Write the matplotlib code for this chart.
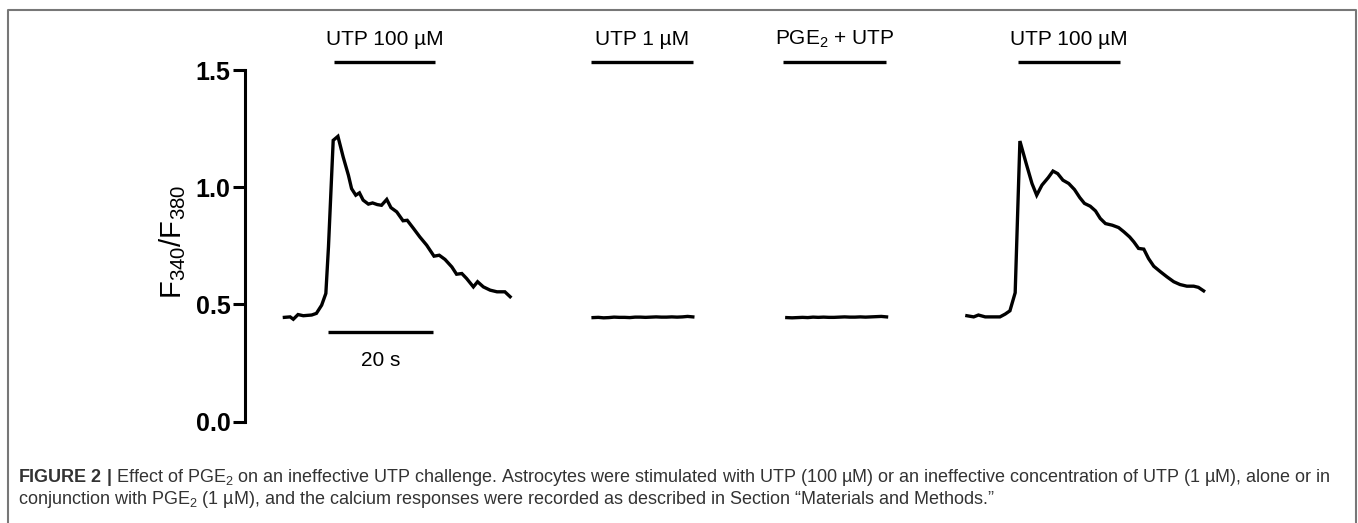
import matplotlib
matplotlib.use("Agg")
import matplotlib.pyplot as plt
from matplotlib.lines import Line2D

plt.rcParams['font.family'] = ['Liberation Sans', 'DejaVu Sans']
plt.rcParams['mathtext.fontset'] = 'custom'
plt.rcParams['mathtext.rm'] = 'Liberation Sans'
plt.rcParams['mathtext.it'] = 'Liberation Sans:italic'
plt.rcParams['mathtext.bf'] = 'Liberation Sans:bold'

# traces: time (s, from start of each recording) and F340/F380 ratio
t_utp100_a = [0, 1.1, 1.7, 2.6, 3.6, 5.2, 6.1, 7.1, 7.9, 8.4, 9.3, 10.2, 11.2, 12.2, 12.8,
              13.6, 14.3, 15.0, 16.0, 16.8, 17.7, 18.5, 19.5, 20.3, 21.4, 22.6, 23.4, 24.6,
              25.8, 27.1, 28.5, 29.5, 30.6, 31.9, 32.8, 33.8, 34.7, 36.0, 36.8, 37.9, 39.2,
              40.5, 42.0, 43.0]
r_utp100_a = [0.445, 0.447, 0.437, 0.457, 0.452, 0.455, 0.462, 0.497, 0.547, 0.746, 1.200,
              1.217, 1.129, 1.051, 0.994, 0.966, 0.976, 0.945, 0.928, 0.933, 0.926, 0.923,
              0.948, 0.913, 0.895, 0.857, 0.859, 0.824, 0.788, 0.753, 0.706, 0.710, 0.692,
              0.660, 0.629, 0.632, 0.611, 0.575, 0.597, 0.575, 0.561, 0.554, 0.554, 0.533]

t_utp1 = [0, 1, 2, 3, 4, 5, 6, 7, 8, 9, 10, 11, 12, 13, 14, 15, 16, 17, 18, 19]
r_utp1 = [0.444, 0.445, 0.443, 0.444, 0.446, 0.445, 0.445, 0.444, 0.446, 0.446,
          0.445, 0.446, 0.447, 0.446, 0.446, 0.447, 0.446, 0.447, 0.449, 0.447]

t_pge = [0, 1, 2, 3, 4, 5, 6, 7, 8, 9, 10, 11, 12, 13, 14, 15, 16, 17, 18, 19]
r_pge = [0.444, 0.443, 0.444, 0.445, 0.444, 0.446, 0.445, 0.446, 0.445, 0.445,
         0.446, 0.447, 0.446, 0.446, 0.447, 0.446, 0.447, 0.448, 0.449, 0.447]

t_utp100_b = [0, 1.3, 2.2, 3.5, 5.1, 6.3, 7.3, 8.2, 9.2, 10.1, 11.3, 12.4, 13.3, 14.3, 15.5,
              16.4, 17.3, 18.3, 19.4, 20.5, 21.5, 22.4, 23.5, 24.5, 25.4, 26.4, 27.7, 28.9,
              29.9, 31.0, 31.8, 32.7, 33.7, 34.6, 35.6, 36.9, 38.1, 39.4, 40.6, 41.9, 43.2,
              44.1, 45.1]
r_utp100_b = [0.452, 0.447, 0.455, 0.447, 0.447, 0.447, 0.459, 0.473, 0.550, 1.197, 1.101,
              1.016, 0.966, 1.009, 1.041, 1.069, 1.058, 1.030, 1.016, 0.990, 0.956, 0.931,
              0.919, 0.899, 0.867, 0.845, 0.838, 0.828, 0.810, 0.788, 0.767, 0.739, 0.736,
              0.696, 0.663, 0.639, 0.618, 0.597, 0.585, 0.578, 0.578, 0.573, 0.558]

traces = [(t_utp100_a, r_utp100_a), (t_utp1, r_utp1), (t_pge, r_pge), (t_utp100_b, r_utp100_b)]
offsets = [7.5, 66.3, 103.2, 137.5]

# application bars (s on the shared axis)
bar_labels = ['UTP 100 µM', 'UTP 1 µM', 'PGE$_2$ + UTP', 'UTP 100 µM']
bar_start = [16.95, 65.9, 102.5, 147.2]
bar_end = [36.2, 85.3, 122.1, 166.7]

yticks = [0.0, 0.5, 1.0, 1.5]
ytick_labels = ['0.0', '0.5', '1.0', '1.5']

W, H = 1358, 523
fig = plt.figure(figsize=(W / 100, H / 100), dpi=100)
ax = fig.add_axes([245 / W, 1 - 421.7 / H, (1350 - 245) / W, (421.7 - 70) / H])

for (t, r), off in zip(traces, offsets):
    ax.plot([v + off for v in t], r, color='black', lw=2.4, solid_joinstyle='miter')

for lab, s, e in zip(bar_labels, bar_start, bar_end):
    ax.plot([s, e], [1.535, 1.535], color='black', lw=2.4, clip_on=False,
            solid_capstyle='butt')
    ax.text((s + e) / 2, 1.632, lab, ha='center', va='center', fontsize=15)

# 20 s scale bar
ax.plot([15.8, 35.8], [0.382, 0.382], color='black', lw=2.4, solid_capstyle='butt')
ax.text(25.8, 0.263, '20 s', ha='center', va='center', fontsize=15)

ax.set_xlim(0, (1350 - 245) / 5.25)
ax.set_ylim(0, 1.5)
for s in ['top', 'right', 'bottom']:
    ax.spines[s].set_visible(False)
ax.spines['left'].set_linewidth(2.2)
ax.xaxis.set_visible(False)
ax.set_yticks(yticks)
ax.set_yticklabels(ytick_labels, fontsize=18, fontweight='bold')
ax.tick_params(axis='y', length=8.5, width=2.2, pad=2)
ax.set_ylabel(r'$\mathregular{F_{340}/F_{380}}$', fontsize=21)
ax.yaxis.set_label_coords(-0.052, 0.51)

# frame around figure panel
fig.add_artist(Line2D([8 / W, 8 / W, 1356 / W, 1356 / W], [-0.1, 1 - 10 / H, 1 - 10 / H, -0.1],
                      transform=fig.transFigure, color='#777777', lw=1.5))

cap_color = '#333333'
fig.text(18 / W, 1 - 477 / H,
         r'$\mathbf{FIGURE\ 2\ |}$ Effect of PGE$_2$ on an ineffective UTP challenge. '
         'Astrocytes were stimulated with UTP (100 µM) or an ineffective concentration of '
         'UTP (1 µM), alone or in',
         fontsize=13, color=cap_color, va='center', ha='left')
fig.text(18 / W, 1 - 499 / H,
         r'conjunction with PGE$_2$ (1 µM), and the calcium responses were recorded as '
         'described in Section \u201cMaterials and Methods.\u201d',
         fontsize=13, color=cap_color, va='center', ha='left')

fig.savefig('out.png', dpi=100)
